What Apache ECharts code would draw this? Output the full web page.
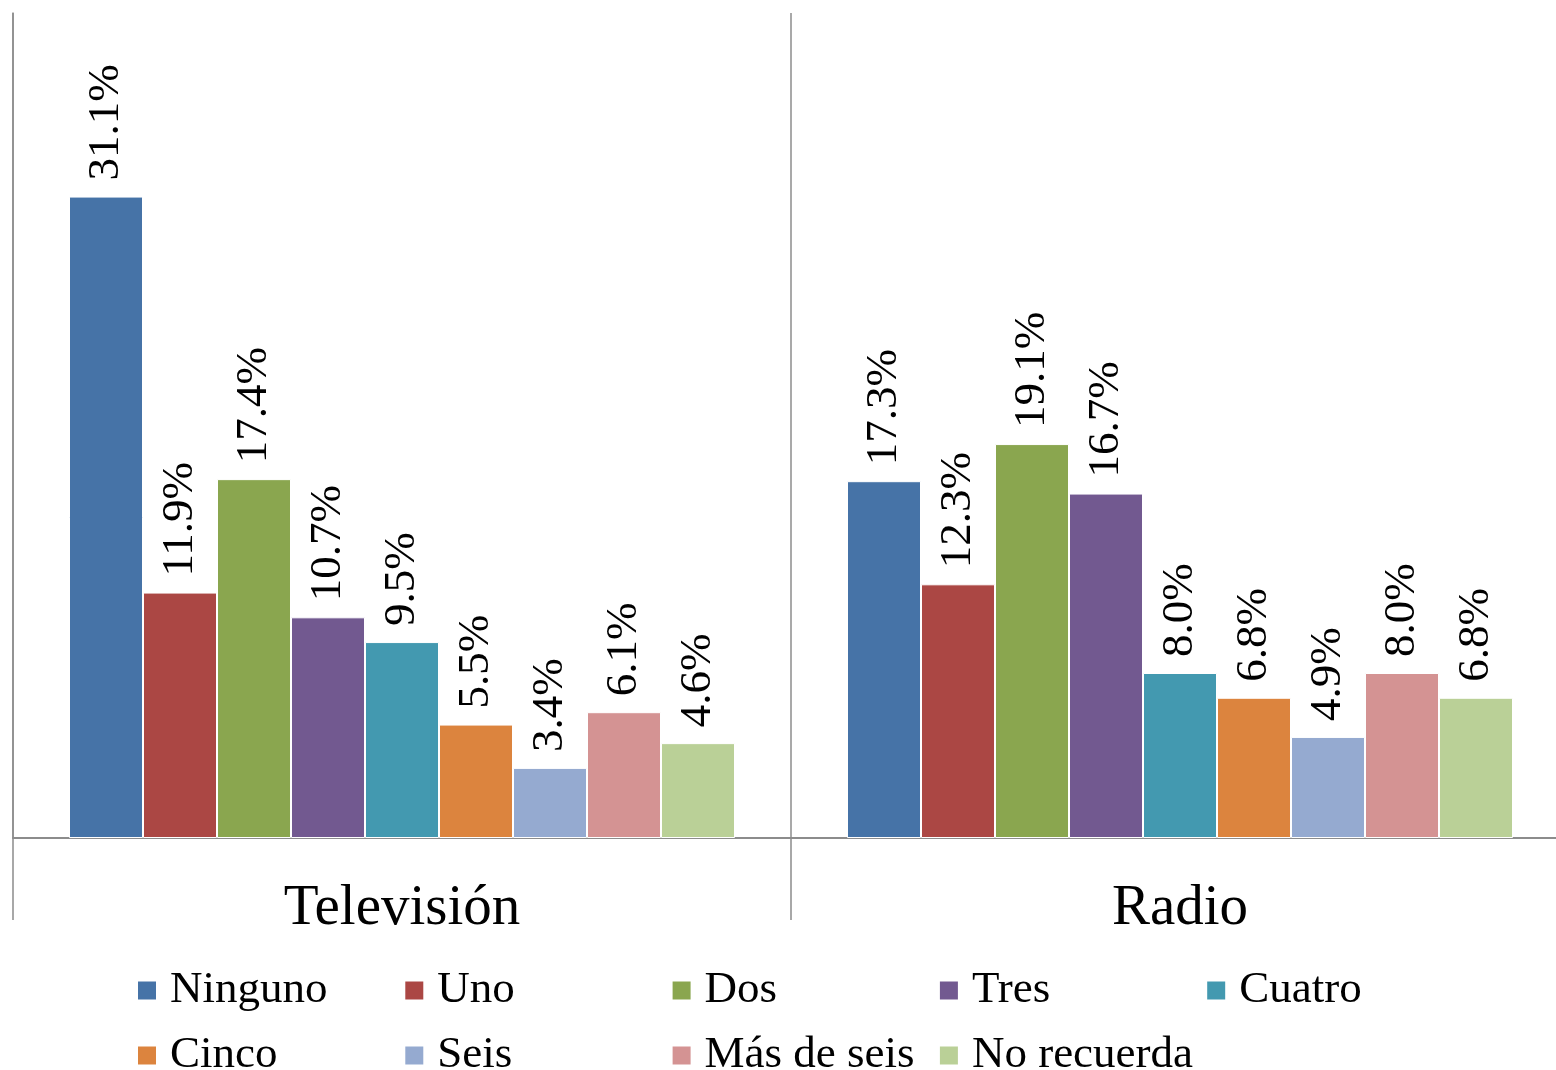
<!DOCTYPE html>
<html>
<head>
<meta charset="utf-8">
<script src="https://cdn.jsdelivr.net/npm/echarts@6/dist/echarts.min.js"></script>
<style>
  html, body { margin: 0; padding: 0; background: #fff; }
  #main { width: 1556px; height: 1070px; }
</style>
</head>
<body>
<div id="main"></div>
<script>
// categorias y series
var categorias = ['Televisión', 'Radio'];
var nombres = ['Ninguno', 'Uno', 'Dos', 'Tres', 'Cuatro', 'Cinco', 'Seis', 'Más de seis', 'No recuerda'];
var colores = ['#4673A7', '#AB4744', '#8AA64F', '#725990', '#4399B0', '#DC843E', '#95AAD0', '#D49393', '#BAD097'];
var television = [31.1, 11.9, 17.4, 10.7, 9.5, 5.5, 3.4, 6.1, 4.6];
var radio = [17.3, 12.3, 19.1, 16.7, 8.0, 6.8, 4.9, 8.0, 6.8];

var fuente = 'Liberation Serif, Times New Roman, serif';
var gris = '#8c8c8c';

var myChart = echarts.init(document.getElementById('main'));

var series = [];
for (var i = 0; i < nombres.length; i++) {
  series.push({
    name: nombres[i],
    type: 'bar',
    data: [television[i], radio[i]],
    barWidth: 74,
    barGap: '0%',
    itemStyle: { color: colores[i], borderColor: '#fff', borderWidth: 1 },
    label: {
      show: true,
      position: 'top',
      rotate: 90,
      align: 'left',
      verticalAlign: 'middle',
      distance: 16,
      color: '#000',
      fontFamily: fuente,
      fontSize: 45,
      formatter: function (p) { return p.value.toFixed(1) + '%'; }
    }
  });
}

var option = {
  animation: false,
  textStyle: { fontFamily: fuente },
  // el grafico sigue mas alla del borde derecho
  grid: { left: 13, right: -13, top: 13, bottom: 232, outerBoundsMode: 'none' },
  legend: {
    data: nombres,
    left: 131,
    top: 953,
    width: 1345,
    orient: 'horizontal',
    itemGap: 0,
    itemWidth: 20,
    itemHeight: 20,
    icon: 'rect',
    textStyle: {
      fontFamily: fuente,
      fontSize: 45,
      color: '#000',
      width: 233.3,
      lineHeight: 65,
      height: 65,
      padding: [0, 0, 0, 8]
    }
  },
  xAxis: {
    type: 'category',
    data: categorias,
    axisLine: { show: true, lineStyle: { color: gris, width: 2 } },
    axisTick: { show: true, interval: 0, length: 82, lineStyle: { color: gris, width: 1.5 } },
    splitLine: { show: true, interval: 0, lineStyle: { color: gris, width: 1.5 } },
    axisLabel: { color: '#000', fontFamily: fuente, fontSize: 57, margin: 43 }
  },
  yAxis: {
    type: 'value',
    min: 0,
    max: 40,
    axisLine: { show: true, lineStyle: { color: gris, width: 1.5 } },
    axisTick: { show: false },
    axisLabel: { show: false },
    splitLine: { show: false }
  },
  series: series
};

myChart.setOption(option);
</script>
</body>
</html>
